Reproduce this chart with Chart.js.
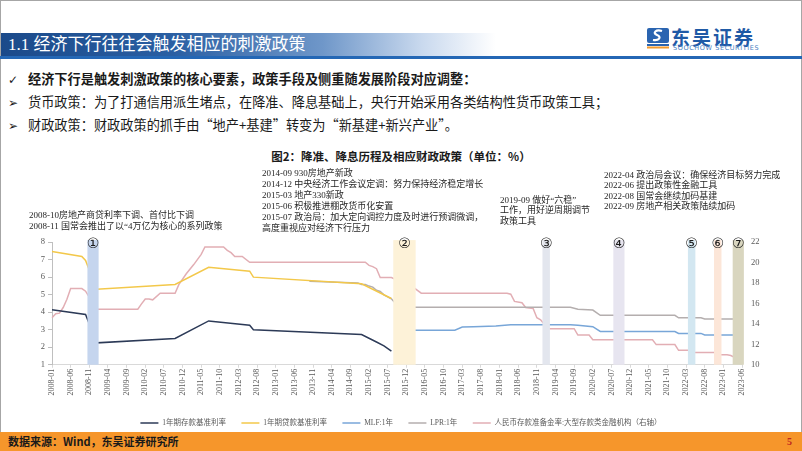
<!DOCTYPE html>
<html>
<head>
<meta charset="utf-8">
<script src="https://cdn.jsdelivr.net/npm/chart.js@4.4.0/dist/chart.umd.min.js"></script>
<style>
    body { margin: 0; background: #fff; }
    #slide { position: relative; width: 802px; height: 451px; overflow: hidden; background: #fff;
             font-family: "Liberation Serif", "Noto Sans CJK SC", serif; color: #1a1a1a; }
    .abs { position: absolute; white-space: nowrap; }
    #frame { left: 0; top: 0; width: 799px; height: 432px; border: 1.5px solid #a6a6a6; border-bottom: none; box-sizing: border-box; width: 802px; }
    #title-bar { left: 1px; top: 33px; width: 495px; height: 24px;
                 background: linear-gradient(to right, #1b4a8a 0%, #2a5fa3 35%, #6f97c9 65%, #c9d9ee 85%, #ffffff 100%); }
    #title { left: 8px; top: 33px; height: 24px; line-height: 24px; font-size: 17px; color: #fff; }
    #rule { left: 0; top: 56px; width: 802px; height: 2.5px; background: #2467b5; }
    #logo-cn { left: 671px; top: 27px; font-size: 19px; font-weight: bold; color: #1f5aa6; letter-spacing: 2px;
               font-family: "Noto Sans CJK SC", sans-serif; line-height: 20px; }
    #logo-en { left: 673px; top: 44px; font-size: 6.5px; color: #4d7fc2; letter-spacing: 0.6px;
               font-family: "DejaVu Sans", sans-serif; }
    #logo-icon { left: 647px; top: 28px; }
    .bullet { left: 8px; font-size: 13.2px; height: 20px; line-height: 20px; font-family: "Noto Sans CJK SC", sans-serif; }
    .bullet .mark { display: inline-block; width: 20px; font-family: "DejaVu Sans", sans-serif; font-size: 12px; }
    #chart-title { left: 0; width: 802px; top: 148px; text-align: center; font-size: 11.5px; font-weight: bold;
                   font-family: "Noto Sans CJK SC", sans-serif; }
    .note { font-size: 9px; line-height: 11px; color: #262626; }
    #chart-box { left: 0; top: 228px; width: 802px; height: 214px; }
    #footer { left: 0; top: 432px; width: 802px; height: 19px; background: #f6962b; }
    #source { left: 8px; top: 432px; height: 19px; line-height: 19px; font-size: 11px; font-weight: bold;
              font-family: "Noto Sans CJK SC", sans-serif; color: #1a1a1a; }
    #page { left: 787px; top: 432px; height: 19px; line-height: 19px; font-size: 10px; font-weight: bold; color: #c0271f; }
</style>
</head>
<body>
<div id="slide">
    <div id="frame" class="abs"></div>
    <div id="title-bar" class="abs"></div>
    <div id="title" class="abs">1.1 经济下行往往会触发相应的刺激政策</div>
    <div id="rule" class="abs"></div>
    <svg id="logo-icon" class="abs" width="22" height="21" viewBox="0 0 22 21">
        <rect x="0" y="0" width="22" height="15" rx="2" fill="#2a64b0"/>
        <path d="M15 3 C9 1, 5 5, 10 7 C15 9, 12 13, 6 12" stroke="#fff" stroke-width="2.2" fill="none"/>
        <rect x="0" y="16" width="22" height="2" fill="#2a64b0"/>
        <rect x="0" y="18.5" width="22" height="2" fill="#f39a2d"/>
    </svg>
    <div id="logo-cn" class="abs">东吴证券</div>
    <div id="logo-en" class="abs">SOOCHOW SECURITIES</div>

    <div class="abs bullet" style="top:69px;font-weight:bold;"><span class="mark">✓</span>经济下行是触发刺激政策的核心要素，政策手段及侧重随发展阶段对应调整：</div>
    <div class="abs bullet" style="top:92px;"><span class="mark">➢</span>货币政策：为了打通信用派生堵点，在降准、降息基础上，央行开始采用各类结构性货币政策工具；</div>
    <div class="abs bullet" style="top:115px;"><span class="mark">➢</span>财政政策：财政政策的抓手由“地产+基建”转变为“新基建+新兴产业”。</div>

    <div id="chart-title" class="abs">图2：降准、降息历程及相应财政政策（单位：%）</div>

    <div id="chart-box" class="abs"><canvas id="chart" width="802" height="214"></canvas></div>

    <div class="abs note" style="left:29px;top:210px;">2008-10房地产商贷利率下调、首付比下调<br>2008-11 国常会推出了以“4万亿为核心的系列政策</div>
    <div class="abs note" style="left:262px;top:168px;">2014-09 930房地产新政<br>2014-12 中央经济工作会议定调：努力保持经济稳定增长<br>2015-03 地产330新政<br>2015-06 积极推进棚改货币化安置<br>2015-07 政治局：加大定向调控力度及时进行预调微调，<br>高度重视应对经济下行压力</div>
    <div class="abs note" style="left:500px;top:195px;line-height:10.3px;">2019-09 做好“六稳”<br>工作，用好逆周期调节<br>政策工具</div>
    <div class="abs note" style="left:604px;top:170px;line-height:10.3px;">2022-04 政治局会议：确保经济目标努力完成<br>2022-06 提出政策性金融工具<br>2022-08 国常会继续加码基建<br>2022-09 房地产相关政策陆续加码</div>

    <div id="footer" class="abs"></div>
    <div id="source" class="abs">数据来源：Wind，东吴证券研究所</div>
    <div id="page" class="abs">5</div>
</div>

<script>
// monthly categories 2008-01 .. 2023-06
const months = [];
for (let y = 2008; y <= 2023; y++) {
    for (let m = 1; m <= 12; m++) {
        if (y === 2023 && m > 6) break;
        months.push(y + "-" + String(m).padStart(2, "0"));
    }
}

// 1年期存款基准利率 (left axis)
const depositDates = ['2008-01', '2008-10', '2009-01', '2010-10', '2011-07', '2012-06', '2012-07', '2014-12', '2015-04', '2015-06', '2015-08'];
const depositRates = [4.14, 3.87, 2.25, 2.5, 3.5, 3.25, 3.0, 2.72, 2.3, 2.08, 1.78];

// 1年期贷款基准利率 (left axis)
const loanDates = ['2008-01', '2008-09', '2008-10', '2009-01', '2010-10', '2011-07', '2012-06', '2012-07', '2014-12', '2015-08'];
const loanRates = [7.47, 7.18, 6.95, 5.31, 5.58, 6.56, 6.34, 6.0, 5.62, 4.78];

// MLF:1年 (left axis)
const mlfDates = ['2016-01', '2017-01', '2017-03', '2017-06', '2017-12', '2018-04', '2019-08', '2019-10', '2020-02', '2020-04', '2021-12', '2022-01', '2022-07', '2022-08', '2023-04'];
const mlfRates = [2.97, 2.97, 3.15, 3.17, 3.21, 3.28, 3.28, 3.25, 3.17, 2.9, 2.9, 2.79, 2.79, 2.7, 2.7];

// LPR:1年 (left axis)
const lprDates = ['2013-10', '2014-11', '2014-12', '2015-01', '2015-02', '2015-03', '2015-04', '2015-05', '2015-06', '2015-08', '2015-10', '2019-08', '2019-10', '2020-02', '2020-04', '2021-12', '2022-01', '2022-07', '2022-08', '2023-04'];
const lprRates = [5.76, 5.67, 5.58, 5.58, 5.49, 5.43, 5.25, 5.18, 4.99, 4.76, 4.28, 4.28, 4.17, 4.12, 3.82, 3.82, 3.68, 3.68, 3.61, 3.61];

// 人民币存款准备金率:大型存款类金融机构 (right axis)
const rrrDates = ['2008-01', '2008-02', '2008-03', '2008-04', '2008-05', '2008-06', '2008-09', '2008-10',
    '2009-01', '2009-12', '2010-01', '2010-02', '2010-03', '2010-04', '2010-06', '2010-10', '2010-11',
    '2011-01', '2011-03', '2011-05', '2011-06', '2011-11', '2011-12', '2012-01', '2012-02', '2012-04', '2012-06',
    '2015-01', '2015-02', '2015-03', '2015-04', '2015-05', '2015-08', '2016-02', '2016-04',
    '2018-03', '2018-04', '2018-05', '2018-07', '2018-08', '2018-10', '2018-11', '2018-12', '2019-02',
    '2019-09', '2019-10', '2020-01', '2020-02', '2021-06', '2021-07', '2021-12', '2022-01', '2022-04', '2022-05',
    '2022-11', '2022-12', '2023-02', '2023-03', '2023-04'];
const rrrRates = [14.6, 15.0, 15.05, 15.6, 16.4, 17.45, 17.45, 17.2,
    15.44, 15.44, 15.95, 16.44, 16.44, 16.35, 17.0, 17.0, 17.84,
    18.9, 19.8, 20.8, 21.53, 21.53, 21.2, 20.97, 20.6, 20.6, 20.03,
    20.03, 19.72, 19.6, 19.4, 18.53, 18.53, 17.55, 17.0,
    17.0, 16.9, 16.2, 16.07, 15.6, 15.5, 14.6, 14.4, 13.53,
    13.53, 12.91, 12.91, 12.44, 12.44, 11.97, 11.97, 11.41, 11.41, 11.19,
    11.19, 10.97, 10.97, 10.9, 10.72];

// policy windows marked by shaded bands
const bandStarts = ['2008-11', '2015-09', '2019-01', '2020-08', '2022-04', '2022-11', '2023-04'];
const bandEnds = ['2009-01', '2016-02', '2019-02', '2020-10', '2022-05', '2022-12', '2023-06'];
const bandMarks = ['①', '②', '③', '④', '⑤', '⑥', '⑦'];

const bandColors = ['#c5d5ee', '#fdf2d8', '#e3e6ee', '#e7e5f0', '#d3e7f1', '#fce6d8', '#d9d6bf'];
const fontFamily = '"Liberation Serif", "Noto Sans CJK SC", serif';


function toPoints(dates, values) {
    return dates.map((d, i) => ({x: d, y: values[i]}));
}


const bandPlugin = {
    id: 'policyBands',
    afterDatasetsDraw(chart) {
        const {ctx, chartArea, scales: {x}} = chart;
        const half = (x.getPixelForValue(1) - x.getPixelForValue(0)) / 2;
        ctx.save();
        for (let i = 0; i < bandStarts.length; i++) {
            const x1 = x.getPixelForValue(months.indexOf(bandStarts[i])) - half;
            const x2 = x.getPixelForValue(months.indexOf(bandEnds[i])) + half;
            ctx.fillStyle = bandColors[i];
            ctx.fillRect(x1, chartArea.top - 2, x2 - x1, chartArea.bottom - chartArea.top + 2);
            ctx.fillStyle = '#1a1a1a';
            ctx.font = '14px "DejaVu Sans"';
            ctx.textAlign = 'center';
            ctx.textBaseline = 'middle';
            ctx.fillText(bandMarks[i], (x1 + x2) / 2, chartArea.top + 2);
        }
        ctx.restore();
    }
};


function makeLine(label, dates, values, color, axis) {
    return {
        label: label,
        data: toPoints(dates, values),
        borderColor: color,
        backgroundColor: color,
        borderWidth: 1.5,
        pointRadius: 0,
        tension: 0,
        spanGaps: true,
        yAxisID: axis
    };
}


const tickFont = {family: fontFamily, size: 8.5};

new Chart(document.getElementById('chart'), {
    type: 'line',
    data: {
        labels: months,
        datasets: [
            makeLine('1年期存款基准利率', depositDates, depositRates, '#2c3a57', 'y'),
            makeLine('1年期贷款基准利率', loanDates, loanRates, '#f3c84a', 'y'),
            makeLine('MLF:1年', mlfDates, mlfRates, '#78a6d8', 'y'),
            makeLine('LPR:1年', lprDates, lprRates, '#b4aeae', 'y'),
            makeLine('人民币存款准备金率:大型存款类金融机构（右轴）', rrrDates, rrrRates, '#e2aeb4', 'y1')
        ]
    },
    options: {
        responsive: false,
        animation: false,
        layout: {padding: {top: 8.5, bottom: 5.25, left: 0, right: 0}},
        plugins: {
            tooltip: {enabled: false},
            legend: {
                position: 'bottom',
                labels: {
                    usePointStyle: true,
                    pointStyle: 'line',
                    pointStyleWidth: 18,
                    padding: 15.5,
                    color: '#595959',
                    font: {family: fontFamily, size: 7.5}
                }
            }
        },
        scales: {
            x: {
                ticks: {
                    autoSkip: false,
                    minRotation: 90,
                    maxRotation: 90,
                    padding: 1,
                    color: '#595959',
                    font: {family: fontFamily, size: 8},
                    callback: function (value, index) {
                        return index % 5 === 0 ? this.getLabelForValue(value) : null;
                    }
                },
                grid: {drawOnChartArea: false, tickLength: 3, color: '#d9d9d9'},
                border: {color: '#d9d9d9'},
                afterFit(scale) { scale.height = 39; }
            },
            y: {
                position: 'left',
                min: 1,
                max: 8,
                ticks: {stepSize: 1, padding: 3, color: '#595959', font: tickFont},
                grid: {drawOnChartArea: false, tickLength: 4, color: '#bfbfbf'},
                border: {color: '#bfbfbf'},
                afterFit(scale) { scale.width = 52; }
            },
            y1: {
                position: 'right',
                min: 10,
                max: 22,
                ticks: {stepSize: 2, padding: 9, color: '#595959', font: tickFont},
                grid: {display: false, drawTicks: false},
                border: {display: false},
                afterFit(scale) { scale.width = 60; }
            }
        }
    },
    plugins: [bandPlugin]
});
</script>
</body>
</html>
